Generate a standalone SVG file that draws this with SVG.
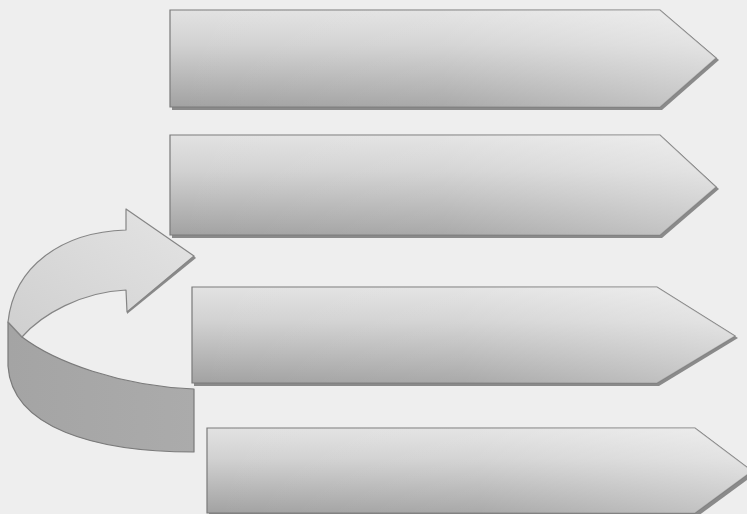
<svg xmlns="http://www.w3.org/2000/svg" width="747" height="514" viewBox="0 0 747 514">
  <defs>
    <linearGradient id="gV" x1="0" y1="0" x2="0" y2="1">
      <stop offset="0" stop-color="#e2e2e2"/>
      <stop offset="0.35" stop-color="#d2d2d2"/>
      <stop offset="1" stop-color="#a2a2a2"/>
    </linearGradient>
    <linearGradient id="gH" x1="0" y1="0" x2="1" y2="0">
      <stop offset="0" stop-color="#ffffff" stop-opacity="0"/>
      <stop offset="0.5" stop-color="#ffffff" stop-opacity="0.08"/>
      <stop offset="1" stop-color="#ffffff" stop-opacity="0.4"/>
    </linearGradient>
    <linearGradient id="gFace" x1="0" y1="1" x2="1" y2="0">
      <stop offset="0" stop-color="#cfcfcf"/>
      <stop offset="1" stop-color="#e4e4e4"/>
    </linearGradient>
    <linearGradient id="gBand" x1="0" y1="0" x2="1" y2="0">
      <stop offset="0" stop-color="#a4a4a4"/>
      <stop offset="1" stop-color="#ababab"/>
    </linearGradient>
  </defs>
  <style>
    .shadow { fill: #8a8a8a; }
    .body { fill: url(#gV); stroke: #7a7a7a; stroke-width: 1.2; }
    .gloss { fill: url(#gH); stroke: none; }
    .face { fill: url(#gFace); stroke: #858585; stroke-width: 1.2; stroke-linejoin: round; }
    .band { fill: url(#gBand); stroke: #7a7a7a; stroke-width: 1.2; stroke-linejoin: round; }
  </style>
  <rect x="0" y="0" width="747" height="514" fill="#eeeeee"/>

  <g id="arrow1">
    <polygon class="shadow" points="172,12 662,12 719,60 662,110 172,110"/>
    <polygon class="body" points="170,10 660,10 716,58 660,107 170,107"/>
    <polygon class="gloss" points="170,10 660,10 716,58 660,107 170,107"/>
  </g>
  <g id="arrow2">
    <polygon class="shadow" points="172,137 662,137 719,189 662,238 172,238"/>
    <polygon class="body" points="170,135 660,135 716,187 660,235 170,235"/>
    <polygon class="gloss" points="170,135 660,135 716,187 660,235 170,235"/>
  </g>
  <g id="arrow3">
    <polygon class="shadow" points="194,289 659,289 738,338 659,386 194,386"/>
    <polygon class="body" points="192,287 657,287 735,336 657,383 192,383"/>
    <polygon class="gloss" points="192,287 657,287 735,336 657,383 192,383"/>
  </g>
  <g id="arrow4">
    <polygon class="shadow" points="209,430 698,430 755,474 698,516 209,516"/>
    <polygon class="body" points="207,428 695,428 752,471 695,513 207,513"/>
    <polygon class="gloss" points="207,428 695,428 752,471 695,513 207,513"/>
  </g>

  <g id="connectors">
    <g id="cycle-arrow">
      <path class="band" d="M8,322 L22,337 C55,362 120,386 194,389 L194,452 C95,452 12,428 8,366 Z"/>
      <path class="shadow" d="M127,314 L196,258 L194,256 L127,311 Z"/>
      <path class="face" d="M126,230 C62,232 14,266 8,322 L22,337 C42,314 82,292 126,290 L127,312 L194,256 L126,209 Z"/>
    </g>
  </g>
</svg>
